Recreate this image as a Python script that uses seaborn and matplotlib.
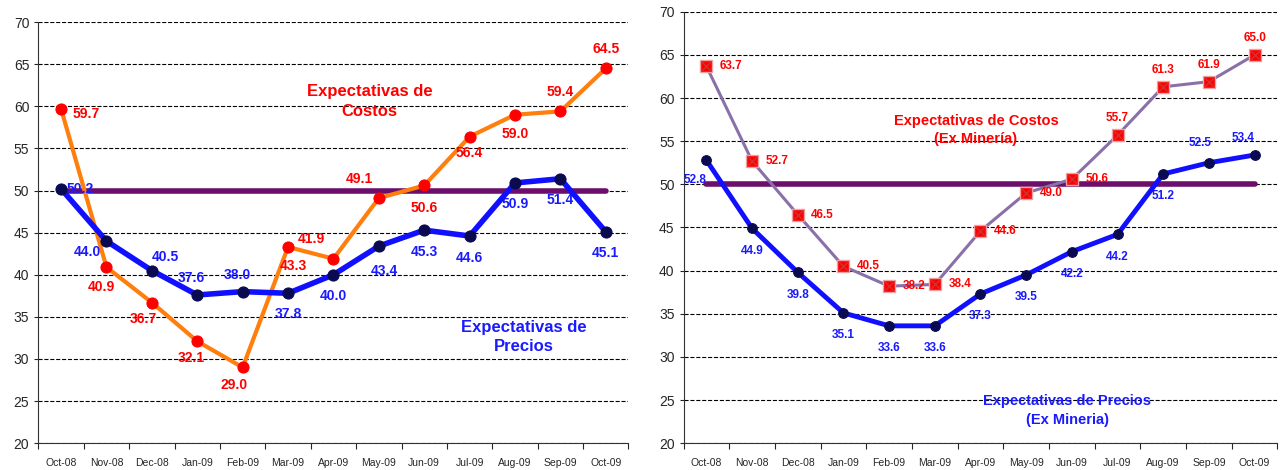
import numpy as np
import matplotlib.pyplot as plt
import seaborn as sns

sns.set_style("white")
plt.rcParams['font.family'] = ['Liberation Sans', 'DejaVu Sans']

months = ["Oct-08", "Nov-08", "Dec-08", "Jan-09", "Feb-09", "Mar-09", "Apr-09",
          "May-09", "Jun-09", "Jul-09", "Aug-09", "Sep-09", "Oct-09"]

costos_l = [59.7, 40.9, 36.7, 32.1, 29.0, 43.3, 41.9, 49.1, 50.6, 56.4, 59.0, 59.4, 64.5]
precios_l = [50.2, 44.0, 40.5, 37.6, 38.0, 37.8, 40.0, 43.4, 45.3, 44.6, 50.9, 51.4, 45.1]
costos_r = [63.7, 52.7, 46.5, 40.5, 38.2, 38.4, 44.6, 49.0, 50.6, 55.7, 61.3, 61.9, 65.0]
precios_r = [52.8, 44.9, 39.8, 35.1, 33.6, 33.6, 37.3, 39.5, 42.2, 44.2, 51.2, 52.5, 53.4]

# label offsets in points (dx, dy)
off_cl = [(18, -4), (-4, -14), (-6, -12), (-4, -12), (-6, -13), (4, -14), (-16, 14),
          (-14, 14), (0, -16), (0, -12), (0, -14), (0, 14), (0, 14)]
off_pl = [(14, 0), (-14, -8), (10, 10), (-4, 12), (-4, 12), (0, -15), (0, -15),
          (4, -18), (0, -16), (0, -16), (0, -15), (0, -15), (0, -15)]
off_cr = [(18, 0), (18, 0), (18, 0), (18, 0), (18, 0), (18, 0), (18, 0),
          (18, 0), (18, 0), (0, 12), (0, 12), (0, 12), (0, 12)]
off_pr = [(-8, -14), (0, -16), (0, -16), (0, -16), (0, -16), (0, -16), (0, -16),
          (0, -16), (0, -16), (0, -16), (0, -16), (-6, 14), (-8, 12)]

fig = plt.figure(figsize=(12.8, 4.7), dpi=100)
ax1 = fig.add_axes([0.030, 0.057, 0.461, 0.896])
ax2 = fig.add_axes([0.534, 0.057, 0.464, 0.918])

x = np.arange(len(months))


def style(ax):
    ax.set_ylim(20, 70)
    ax.set_xlim(-0.5, len(months) - 0.5)
    ax.set_yticks(range(20, 71, 5))
    ax.yaxis.grid(True, linestyle='--', color='black', linewidth=0.8)
    ax.set_axisbelow(True)
    for s in ['top', 'right']:
        ax.spines[s].set_visible(False)
    for s in ['left', 'bottom']:
        ax.spines[s].set_color('#333333')
    ax.set_xticks(np.arange(-0.5, len(months), 1))
    ax.set_xticklabels([])
    ax.tick_params(axis='x', length=4, direction='out', bottom=True)
    ax.tick_params(axis='y', labelsize=10, length=3, left=True)
    for i, m in enumerate(months):
        ax.text(i, -0.035, m, transform=ax.get_xaxis_transform(), ha='center', va='top', fontsize=7.5)


def labels(ax, vals, offs, color, fs):
    for i, (v, o) in enumerate(zip(vals, offs)):
        ax.annotate(f"{v:.1f}", (i, v), xytext=o, textcoords='offset points',
                    ha='center', va='center', color=color, fontsize=fs, fontweight='bold')


# left panel
style(ax1)
ax1.plot([0, 12], [50, 50], color='#6b0f6b', linewidth=4, zorder=2)
sns.lineplot(x=x, y=costos_l, ax=ax1, color='#ff7f0e', linewidth=3, marker='o',
             markersize=8, markerfacecolor='red', markeredgecolor='red', zorder=3)
sns.lineplot(x=x, y=precios_l, ax=ax1, color='#1010ff', linewidth=4, marker='o',
             markersize=8, markerfacecolor='#0a0a50', markeredgecolor='#0a0a50', zorder=4)
labels(ax1, costos_l, off_cl, 'red', 10)
labels(ax1, precios_l, off_pl, '#1a1aff', 10)
ax1.text(6.8, 60.6, "Expectativas de\nCostos", color='red', fontsize=12, fontweight='bold',
         ha='center', va='center', linespacing=1.4)
ax1.text(10.2, 32.6, "Expectativas de\nPrecios", color='#1a1aff', fontsize=12, fontweight='bold',
         ha='center', va='center', linespacing=1.4)

# right panel
style(ax2)
ax2.plot([0, 12], [50, 50], color='#6b0f6b', linewidth=4, zorder=2)
sns.lineplot(x=x, y=costos_r, ax=ax2, color='#8a70a8', linewidth=2.2, zorder=3)
ax2.plot(x, costos_r, linestyle='none', marker='s', markersize=8, color='red',
         markeredgecolor='#f0a0a0', zorder=4)
ax2.plot(x, costos_r, linestyle='none', marker='x', markersize=7, color='#cc3333',
         markeredgewidth=1, zorder=4.5)
sns.lineplot(x=x, y=precios_r, ax=ax2, color='#1010ff', linewidth=3.5, marker='o',
             markersize=7, markerfacecolor='#0a0a50', markeredgecolor='#0a0a50', zorder=5)
labels(ax2, costos_r, off_cr, 'red', 8.5)
labels(ax2, precios_r, off_pr, '#1a1aff', 8.5)
ax2.text(5.9, 56.3, "Expectativas de Costos\n(Ex Minería)", color='red', fontsize=10.5,
         fontweight='bold', ha='center', va='center', linespacing=1.4)
ax2.text(7.9, 23.8, "Expectativas de Precios\n(Ex Mineria)", color='#1a1aff', fontsize=10.5,
         fontweight='bold', ha='center', va='center', linespacing=1.4)

fig.savefig("out.png", dpi=100)
